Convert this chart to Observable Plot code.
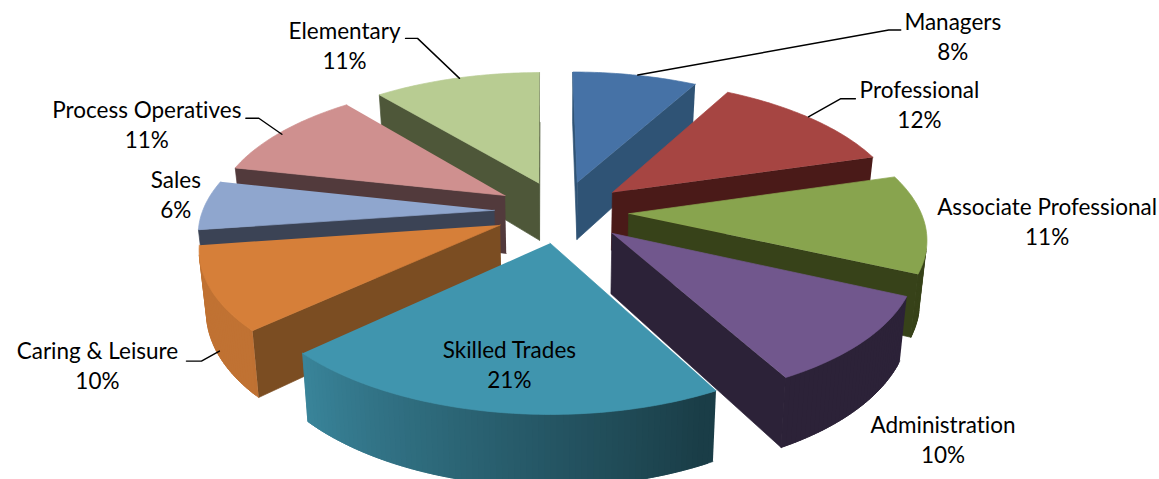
<!DOCTYPE html>
<html>
<head>
<meta charset="utf-8">
<script src="https://cdn.jsdelivr.net/npm/d3@7"></script>
<script src="https://cdn.jsdelivr.net/npm/@observablehq/plot@0.6"></script>
<style>html,body{margin:0;padding:0;background:#fff}svg{display:block}</style>
</head>
<body>
<div id="chart"></div>
<script>
// Data
const categories = ["Managers","Professional","Associate Professional","Administration","Skilled Trades","Caring & Leisure","Sales","Process Operatives","Elementary"];
const shares = [8,12,11,10,21,10,6,11,11];

// Palette
const topColors = ["#4672a6","#a64542","#88a44e","#71578d","#4095ae","#d67f39","#8fa6ce","#cf908f","#b8cc92"];
const cutColors = ["#2f5375","#4a1a18","#374219","#2c2238","#1a3d47","#7b4d22","#3b4355","#523a3c","#4e5739"];

// Layout (pie model, label offsets in px from each slice's mid-arc point)
const W = 1159, H = 479;
const centerX = 561, centerY = 211, radiusX = 292, radiusY = 135;
const explode = 0.23, perspective = 0.15, depth = 0.437, floorShrink = 0.98, viewSkew = 4.5, shear = 0.008;
const anchorScale = 290 / 292, anchorShift = 1 / 292;
const labelOffsets = [[315,-40],[111,-13],[126,4],[69,107],[-12,-51],[-122,65],[-30,-18],[-135,-11],[-115,-34]];
const leaderBends = [[[251,-45],[263,-45]],[[32,-18],[47,-18]],null,null,null,[[-18,10],[-33,10]],null,[[-23,-16],[-36,-16]],[[-42,-40],[-54,-40]]];
const leaderDrop = [0,0,0,0,0,0.8,0,0,0];

const total = d3.sum(shares);
const project = (u, v, drop = 0) => {
  const w = 1 / (1 + perspective * v);
  return {x: (u * w - shear * v) * (1 - (1 - floorShrink) * drop), y: (v - depth * drop) * w};
};
const rad = d => d * Math.PI / 180;
const view = d => rad(d + viewSkew * (1 - Math.cos(rad(d))) / 2);
const toPxX = 1 / radiusX, toPxY = 1 / radiusY;

let cum = 0;
const slices = categories.map((name, i) => {
  const a0 = cum / total * 360; cum += shares[i];
  const a1 = cum / total * 360;
  const mid = (a0 + a1) / 2;
  const ox = explode * Math.sin(view(mid)), oy = explode * Math.cos(view(mid));
  return {name, i, share: shares[i], a0, a1, mid, ox, oy};
});

const faces = [];
let fid = 0;
const order = slices.slice().sort((a, b) => b.oy - a.oy);
const mix = (a, b, t) => d3.interpolateRgb(a, b)(t);
for (const s of order) {
  const loop = [{u: s.ox, v: s.oy, arc: false}];
  const steps = Math.ceil(s.a1 - s.a0);
  for (let k = 0; k <= steps; k++) {
    const a = s.a0 + (s.a1 - s.a0) * k / steps;
    loop.push({u: s.ox + Math.sin(view(a)), v: s.oy + Math.cos(view(a)), a, arc: true});
  }
  const lit = d3.rgb(topColors[s.i]).darker(0.3).formatHex();
  for (let k = 0; k < loop.length; k++) {
    const p = loop[k], q = loop[(k + 1) % loop.length], r = loop[(k + 2) % loop.length];
    const quad = [project(p.u, p.v), project(q.u, q.v), project(q.u, q.v, 1), project(p.u, p.v, 1)];
    const px = quad.map(d => [d.x * radiusX, -d.y * radiusY]);
    if (d3.polygonArea(px) <= 0) continue;   // back-facing in screen space
    let color = cutColors[s.i];
    let wall = quad;
    if (p.arc && q.arc) {
      const t = Math.max(0, Math.min(1, ((p.a + q.a) / 2 - 150) / 75));
      color = mix(cutColors[s.i], lit, t);
      if (r.arc) wall = [project(p.u, p.v), project(r.u, r.v), project(r.u, r.v, 1), project(p.u, p.v, 1)];
    }
    const id = fid++;
    wall.forEach(d => faces.push({id, x: d.x, y: d.y, color}));
  }
  const id = fid++;
  loop.forEach(p => { const d = project(p.u, p.v); faces.push({id, x: d.x, y: d.y, color: topColors[s.i]}); });
}

const anchors = slices.map(s => {
  const u = (1 + explode) * Math.sin(rad(s.mid)), v = (1 + explode) * Math.cos(rad(s.mid));
  const w = 1 / (1 + perspective * v);
  return {x: u * w * anchorScale + anchorShift, y: v * w};
});
const labels = slices.map((s, i) => ({
  text: `${s.name}\n${s.share}%`,
  x: anchors[i].x + labelOffsets[i][0] * toPxX,
  y: anchors[i].y - labelOffsets[i][1] * toPxY
}));
const leaders = [];
slices.forEach((s, i) => {
  if (!leaderBends[i]) return;
  const a = anchors[i];
  const y0 = a.y - depth * leaderDrop[i] / (1 + perspective * ((1 + explode) * Math.cos(rad(s.mid))));
  leaders.push({i, x: a.x, y: y0});
  leaderBends[i].forEach(b => leaders.push({i, x: a.x + b[0] * toPxX, y: y0 - b[1] * toPxY}));
});

const fontSize = 22.5;
const chart = Plot.plot({
  width: W, height: H, margin: 0,
  style: {background: "#fff", fontFamily: "Lato, 'Open Sans', sans-serif", fontVariantLigatures: "none"},
  x: {domain: [-centerX / radiusX, (W - centerX) / radiusX], range: [0, W], axis: null},
  y: {domain: [centerY / radiusY, (centerY - H) / radiusY], range: [0, H], axis: null},
  marks: [
    Plot.line(faces, {x: "x", y: "y", z: "id", fill: "color", stroke: "color", strokeWidth: 0.7, curve: "linear"}),
    Plot.line(leaders, {x: "x", y: "y", z: "i", stroke: "#000", strokeWidth: 1.4}),
    Plot.text(labels, {x: "x", y: "y", text: "text", fontSize, lineHeight: 30 / fontSize, fill: "#000", textAnchor: "middle"})
  ]
});
document.getElementById("chart").append(chart);
</script>
</body>
</html>
